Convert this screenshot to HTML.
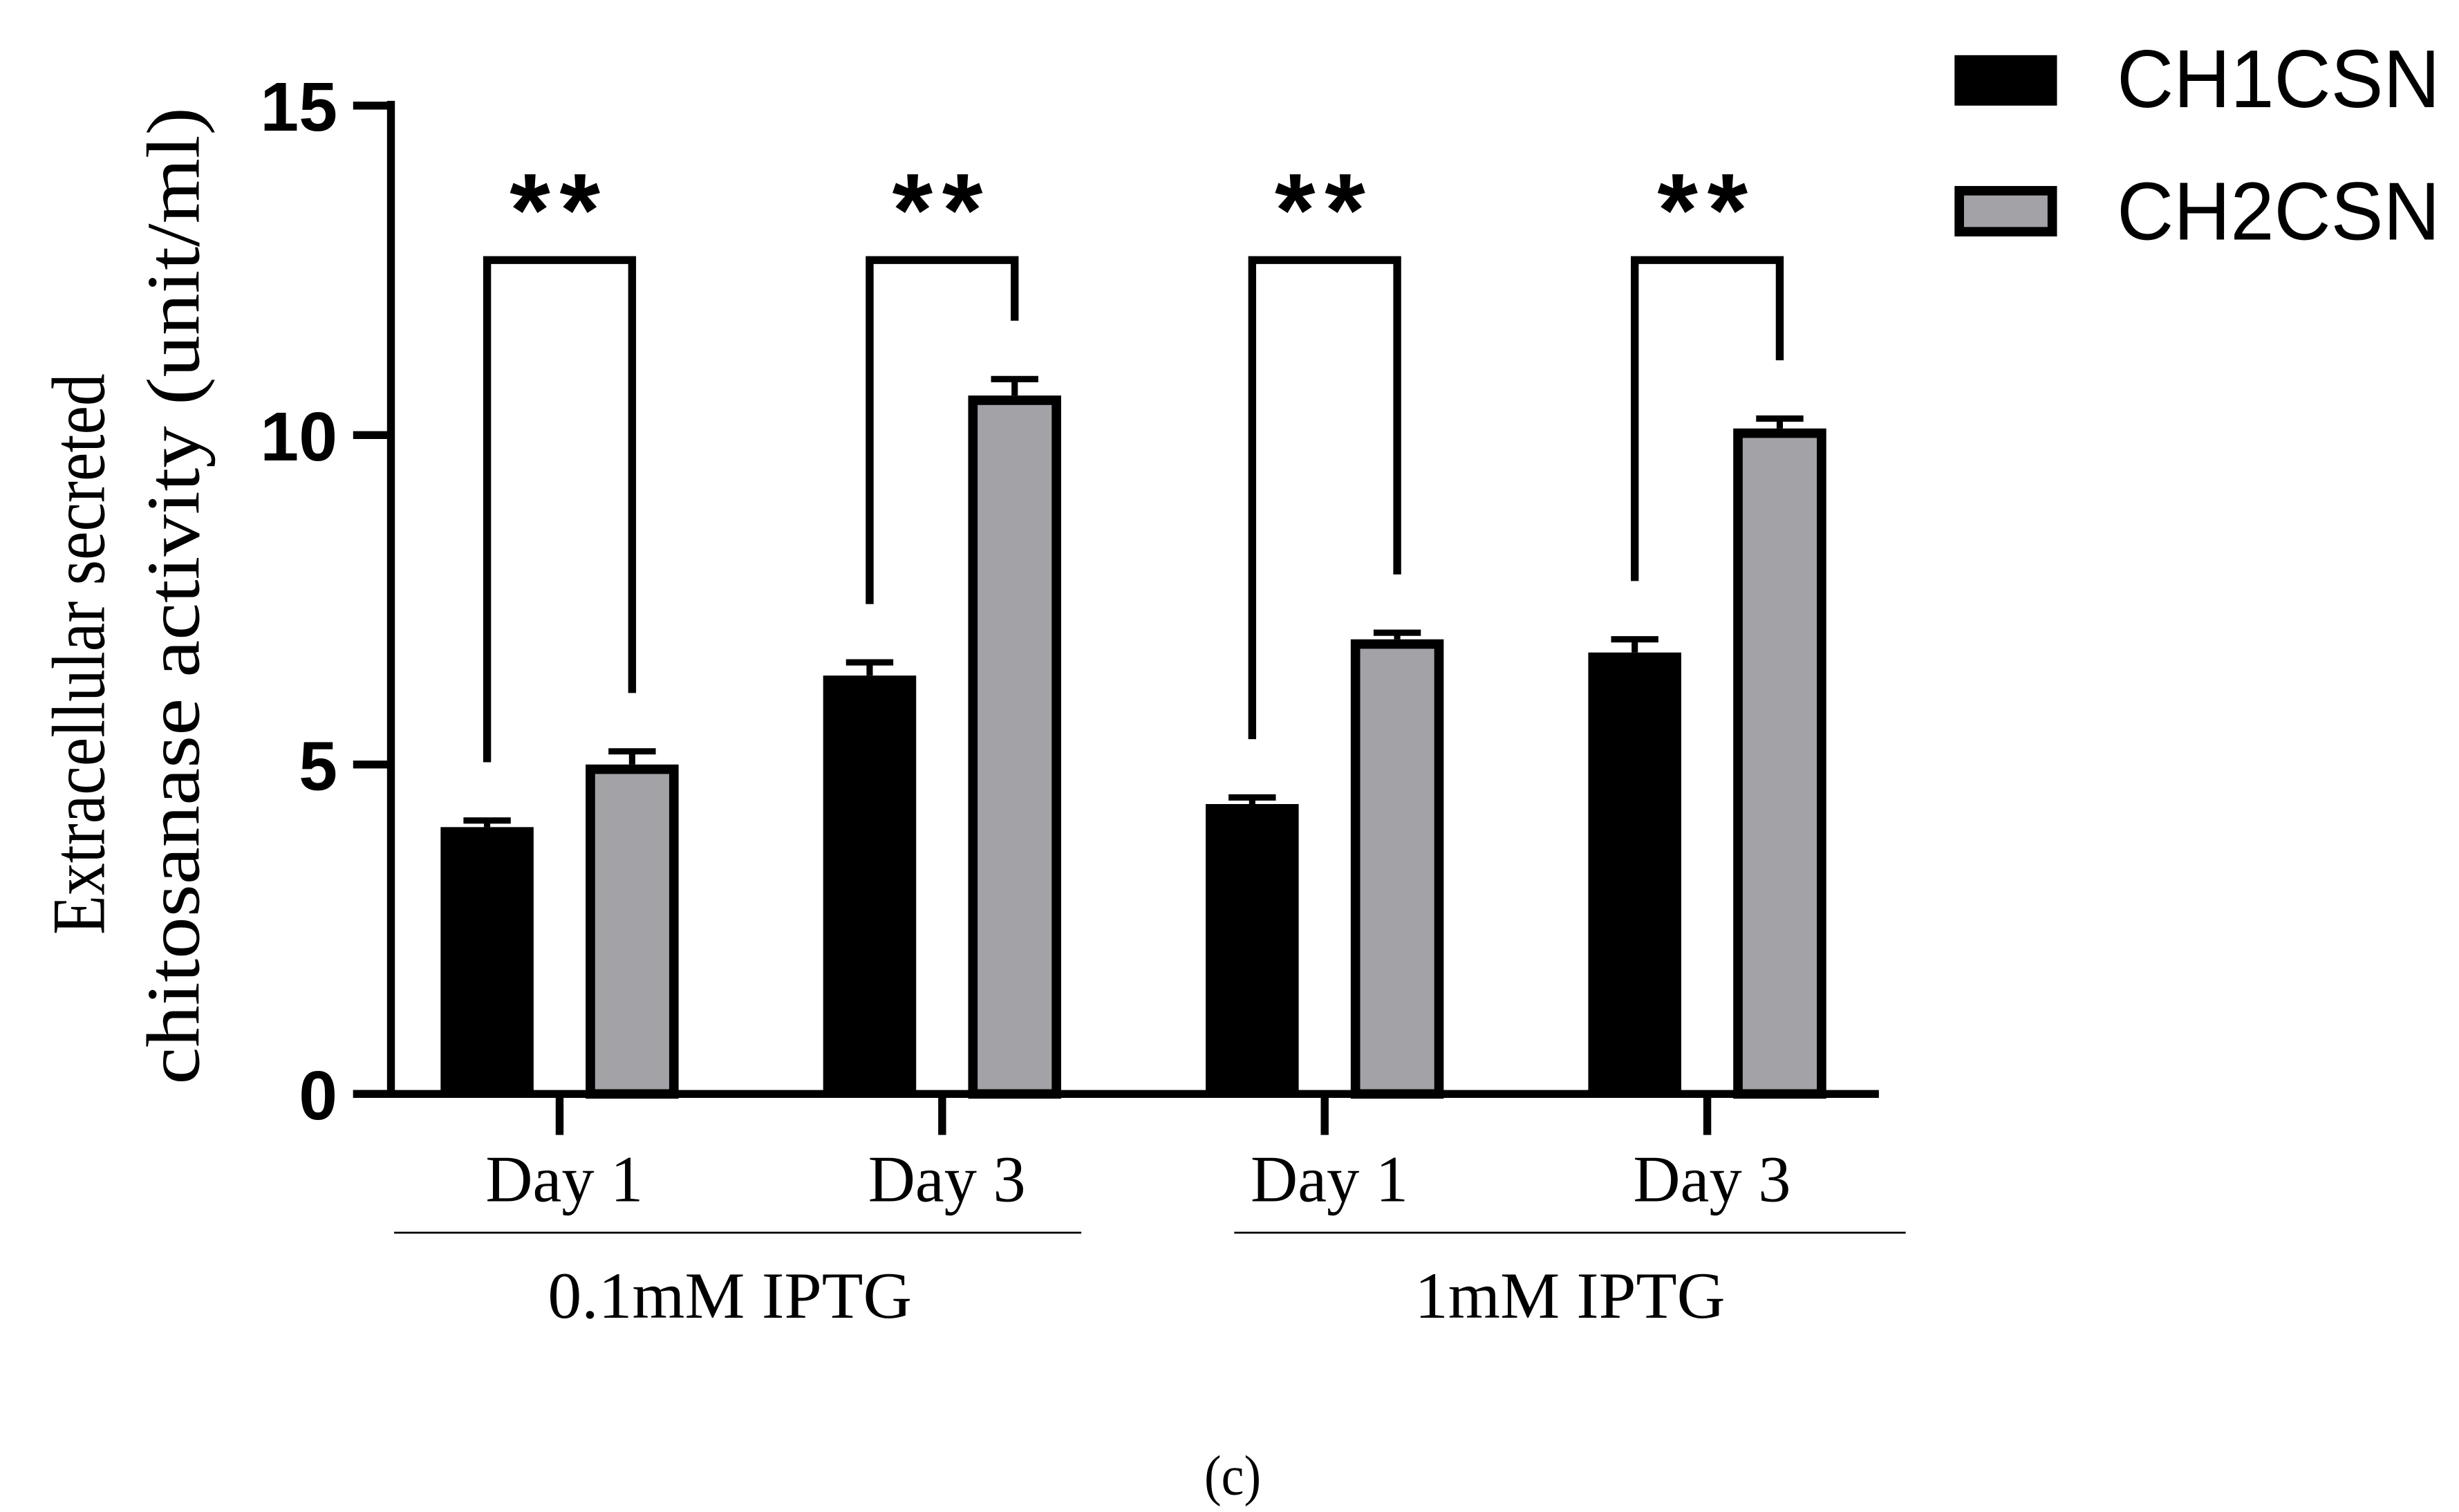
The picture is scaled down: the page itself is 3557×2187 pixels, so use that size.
<!DOCTYPE html>
<html><head><meta charset="utf-8"><style>html,body{margin:0;padding:0;background:#fff}svg{display:block}</style></head>
<body>
<svg id="chart" width="3557" height="2187" viewBox="0 0 1560 959.2" xmlns="http://www.w3.org/2000/svg">
<rect width="1560" height="959.2" fill="#fff"/>
<g id="plot"></g>
</svg>
<script>
const categories = ["Day 1","Day 3","Day 1","Day 3"];
const groups = ["0.1mM IPTG","1mM IPTG"];
const ch1Values = [4.05, 6.35, 4.4, 6.7];
const ch1Errors = [0.1, 0.2, 0.1, 0.2];
const ch2Values = [5.0, 10.6, 6.9, 10.1];
const ch2Errors = [0.2, 0.25, 0.1, 0.15];
const yTicks = [0, 5, 10, 15];
const sigLabels = ["**","**","**","**"];

const NS = "http://www.w3.org/2000/svg";
const g = document.getElementById('plot');
const X0 = 248, Y0 = 694, Y15 = 67;
function y(v){ return Y0 - (v/15)*(Y0-Y15); }
function catX(i){ return 355 + i*242.7; }
function mk(tag, attrs, parent){ const e=document.createElementNS(NS,tag); for(const k in attrs) e.setAttribute(k,attrs[k]); (parent||g).appendChild(e); return e; }

let ax = mk('line',{x1:X0,y1:Y15-3,x2:X0,y2:Y0,stroke:'#000','stroke-width':5});


yTicks.forEach(t=>{
  const tk = mk('line',{x1:224,y1:y(t),x2:X0,y2:y(t),stroke:'#000','stroke-width':5});
  
  
  const tl = mk('text',{x:214,y:y(t)+16,'text-anchor':'end','font-family':'Liberation Sans, sans-serif','font-weight':'bold','font-size':44});
  tl.textContent = t;
  
  
});
let xa = mk('line',{x1:224,y1:Y0,x2:1192,y2:Y0,stroke:'#000','stroke-width':5});



const bw = 59, off = 46;
categories.forEach((c,i)=>{
  const cx = catX(i);
  const xt = mk('line',{x1:cx,y1:Y0,x2:cx,y2:720,stroke:'#000','stroke-width':5});
  
  
  const lab = mk('text',{x:cx+3,y:762,'text-anchor':'middle','font-family':'Liberation Serif, serif','font-size':42,textLength:100,lengthAdjust:'spacingAndGlyphs'});
  lab.textContent = c;
  
  
  const bx1 = cx-off-bw/2;
  const e1 = mk('line',{x1:cx-off,y1:y(ch1Values[i]+ch1Errors[i]),x2:cx-off,y2:y(ch1Values[i]),stroke:'#000','stroke-width':4});
  
  
  const c1 = mk('line',{x1:cx-off-15,y1:y(ch1Values[i]+ch1Errors[i]),x2:cx-off+15,y2:y(ch1Values[i]+ch1Errors[i]),stroke:'#000','stroke-width':4});
  
  
  const b1 = mk('rect',{x:bx1,y:y(ch1Values[i]),width:bw,height:Y0-y(ch1Values[i]),fill:'#000'});
  
  
  const cx2 = cx+off;
  const e2 = mk('line',{x1:cx2,y1:y(ch2Values[i]+ch2Errors[i]),x2:cx2,y2:y(ch2Values[i]),stroke:'#000','stroke-width':4});
  
  
  const c2 = mk('line',{x1:cx2-15,y1:y(ch2Values[i]+ch2Errors[i]),x2:cx2+15,y2:y(ch2Values[i]+ch2Errors[i]),stroke:'#000','stroke-width':4});
  
  
  const b2 = mk('rect',{x:cx2-bw/2+3,y:y(ch2Values[i])+3,width:bw-6,height:Y0-y(ch2Values[i])-3,fill:'#a3a2a7',stroke:'#000','stroke-width':6});
  
  
  const lx = cx-off, rx = cx2;
  const ly = y(ch1Values[i]+ch1Errors[i]) - 37, ry = y(ch2Values[i]+ch2Errors[i]) - 37;
  const br = mk('polyline',{points:`${lx},${ly} ${lx},165 ${rx},165 ${rx},${ry}`,fill:'none',stroke:'#000','stroke-width':5});
  
  
  const st = mk('text',{x:cx,y:156,'text-anchor':'middle','font-family':'Liberation Sans, sans-serif','font-weight':'bold','font-size':66,'letter-spacing':6});
  st.textContent = sigLabels[i];
  
  
});
const gl = [[250,686,463,231],[783,1209,996,197]];
groups.forEach((gname,k)=>{
  const l = mk('line',{x1:gl[k][0],y1:782,x2:gl[k][1],y2:782,stroke:'#000','stroke-width':1.2});
  
  
  const t = mk('text',{x:gl[k][2],y:836,'text-anchor':'middle','font-family':'Liberation Serif, serif','font-size':42,textLength:gl[k][3],lengthAdjust:'spacingAndGlyphs'});
  t.textContent = gname;
  
  
});
const yt1 = mk('text',{transform:'translate(66,415) rotate(-90)','text-anchor':'middle','font-family':'Liberation Serif, serif','font-size':48,textLength:356,lengthAdjust:'spacingAndGlyphs'});
yt1.textContent = 'Extracellular secreted';


const yt2 = mk('text',{transform:'translate(126,378) rotate(-90)','text-anchor':'middle','font-family':'Liberation Serif, serif','font-size':48,textLength:620,lengthAdjust:'spacingAndGlyphs'});
yt2.textContent = 'chitosanase activity (unit/ml)';


const lg1 = mk('rect',{x:1240,y:35,width:65,height:32,fill:'#000'});


const lt1 = mk('text',{x:1343,y:68,'font-family':'Liberation Sans, sans-serif','font-size':52,textLength:205,lengthAdjust:'spacingAndGlyphs'});
lt1.textContent = 'CH1CSN';


const lg2 = mk('rect',{x:1243,y:121,width:59,height:26,fill:'#a3a2a7',stroke:'#000','stroke-width':6});


const lt2 = mk('text',{x:1343,y:152,'font-family':'Liberation Sans, sans-serif','font-size':52,textLength:205,lengthAdjust:'spacingAndGlyphs'});
lt2.textContent = 'CH2CSN';


const cap = mk('text',{x:782,y:948,'text-anchor':'middle','font-family':'Liberation Serif, serif','font-size':36,textLength:36,lengthAdjust:'spacingAndGlyphs'});
cap.textContent = '(c)';


</script>
</body></html>
